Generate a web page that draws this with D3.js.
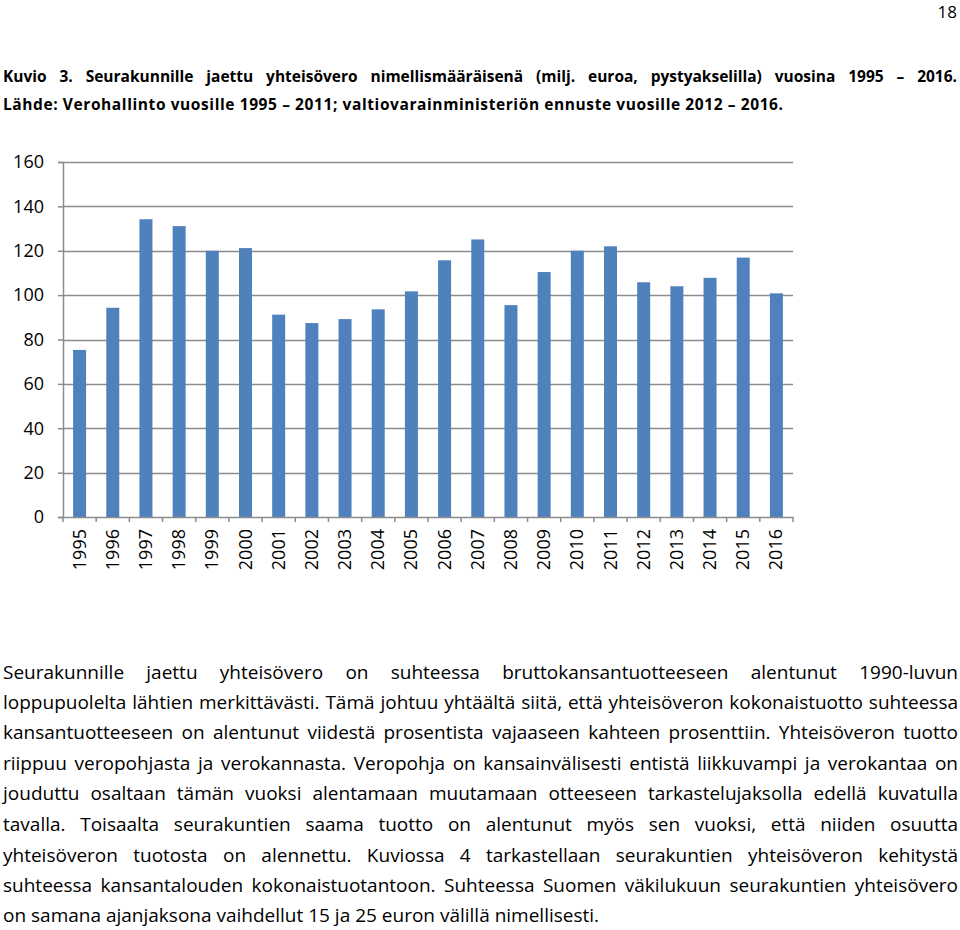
<!DOCTYPE html>
<html>
<head>
<meta charset="utf-8">
<script src="https://cdn.jsdelivr.net/npm/d3@7"></script>
<style>
html,body{margin:0;padding:0;background:#fff;}
svg{display:block;}
</style>
</head>
<body>
<script>
const years = ["1995","1996","1997","1998","1999","2000","2001","2002","2003","2004","2005","2006","2007","2008","2009","2010","2011","2012","2013","2014","2015","2016"];
const values = [75.3,94.3,134.2,131.1,120.0,121.2,91.2,87.4,89.2,93.6,101.7,115.7,125.1,95.5,110.4,120.0,122.0,105.8,104.0,107.8,116.9,100.8];
const yTicks = [0,20,40,60,80,100,120,140,160];
const pageNumber = "18";
const titleLines = [
  "Kuvio 3. Seurakunnille jaettu yhteisövero nimellismääräisenä (milj. euroa, pystyakselilla) vuosina 1995 – 2016.",
  "Lähde: Verohallinto vuosille 1995 – 2011; valtiovarainministeriön ennuste vuosille 2012 – 2016."
];
const bodyLines = [
  "Seurakunnille jaettu yhteisövero on suhteessa bruttokansantuotteeseen alentunut 1990-luvun",
  "loppupuolelta lähtien merkittävästi. Tämä johtuu yhtäältä siitä, että yhteisöveron kokonaistuotto suhteessa",
  "kansantuotteeseen on alentunut viidestä prosentista vajaaseen kahteen prosenttiin. Yhteisöveron tuotto",
  "riippuu veropohjasta ja verokannasta. Veropohja on kansainvälisesti entistä liikkuvampi ja verokantaa on",
  "jouduttu osaltaan tämän vuoksi alentamaan muutamaan otteeseen tarkastelujaksolla edellä kuvatulla",
  "tavalla. Toisaalta seurakuntien saama tuotto on alentunut myös sen vuoksi, että niiden osuutta",
  "yhteisöveron tuotosta on alennettu. Kuviossa 4 tarkastellaan seurakuntien yhteisöveron kehitystä",
  "suhteessa kansantalouden kokonaistuotantoon. Suhteessa Suomen väkilukuun seurakuntien yhteisövero",
  "on samana ajanjaksona vaihdellut 15 ja 25 euron välillä nimellisesti."
];

(function () {
const W = 960, H = 930;
const FONT = "'Open Sans',sans-serif";
const svg = d3.select("body").append("svg").attr("width", W).attr("height", H);

svg.append("text").attr("x", 957).attr("y", 18).attr("text-anchor", "end")
  .attr("font-family", FONT).attr("font-size", 17).attr("fill", "#000").text(pageNumber);

function drawLine(str, x0, x1, yy, opts) {
  const words = str.split(" ");
  const g = svg.append("text").attr("y", yy)
    .attr("font-family", FONT).attr("font-size", opts.size)
    .attr("font-weight", opts.weight || "normal").attr("fill", "#000");
  if (!opts.justify) {
    g.attr("x", x0).text(str);
    if (opts.width) g.attr("textLength", opts.width).attr("lengthAdjust", "spacing");
    return;
  }
  const spans = words.map(w => g.append("tspan").text(w));
  const widths = spans.map(s => s.node().getComputedTextLength());
  const total = d3.sum(widths);
  const gap = (x1 - x0 - total) / (words.length - 1);
  let xx = x0;
  spans.forEach((s, i) => { s.attr("x", xx); xx += widths[i] + gap; });
}

drawLine(titleLines[0], 3, 957, 82, {size: 15.5, weight: "bold", justify: true});
drawLine(titleLines[1], 3, 0, 110, {size: 15.5, weight: "bold", justify: false, width: 780});

const pL = 63, pR = 793, pT = 162, pB = 517;
const x = d3.scaleBand().domain(years).range([pL, pR]);
const y = d3.scaleLinear().domain([0, 160]).range([pB, pT]);

const grid = "#8c8c8c";
svg.append("g").selectAll("line").data(yTicks.filter(d => d > 0)).join("line")
  .attr("x1", pL).attr("x2", pR)
  .attr("y1", d => Math.round(y(d)) + 0.5).attr("y2", d => Math.round(y(d)) + 0.5)
  .attr("stroke", grid).attr("stroke-width", 1.5);

svg.append("g").selectAll("rect").data(values).join("rect")
  .attr("x", (d, i) => x(years[i]) + x.bandwidth() / 2 - 6.5)
  .attr("width", 13)
  .attr("y", d => y(d)).attr("height", d => y(0) - y(d))
  .attr("fill", "#4f81bd");

const yAxis = svg.append("g").attr("transform", `translate(${pL},0)`)
  .call(d3.axisLeft(y).tickValues(yTicks).tickSize(5).tickPadding(14));
yAxis.select(".domain").attr("stroke", grid).attr("stroke-width", 1.5);
yAxis.selectAll(".tick line").attr("stroke", grid).attr("stroke-width", 1.5);
yAxis.selectAll("text").attr("font-family", FONT).attr("font-size", 18).attr("fill", "#000");

const xAxis = svg.append("g").attr("transform", `translate(0,${pB})`)
  .call(d3.axisBottom(x).tickSize(0).tickPadding(0));
xAxis.select(".domain").attr("stroke", grid).attr("stroke-width", 1.5);
xAxis.selectAll(".tick text")
  .attr("font-family", FONT).attr("font-size", 18).attr("fill", "#000")
  .attr("text-anchor", "end").attr("dy", 0).attr("dx", 0)
  .attr("transform", "translate(6,12) rotate(-90)");
svg.append("g").selectAll("line").data(years.concat(["end"])).join("line")
  .attr("x1", (d, i) => i < years.length ? x(d) : pR)
  .attr("x2", (d, i) => i < years.length ? x(d) : pR)
  .attr("y1", pB).attr("y2", pB + 5)
  .attr("stroke", grid).attr("stroke-width", 1.5);

const baselines = [679, 709, 739, 770, 800, 831, 862, 892, 922];
bodyLines.forEach((l, i) => {
  const last = i === bodyLines.length - 1;
  drawLine(l, 3, 958, baselines[i], {size: 19, justify: !last});
});
})();
</script>
</body>
</html>
